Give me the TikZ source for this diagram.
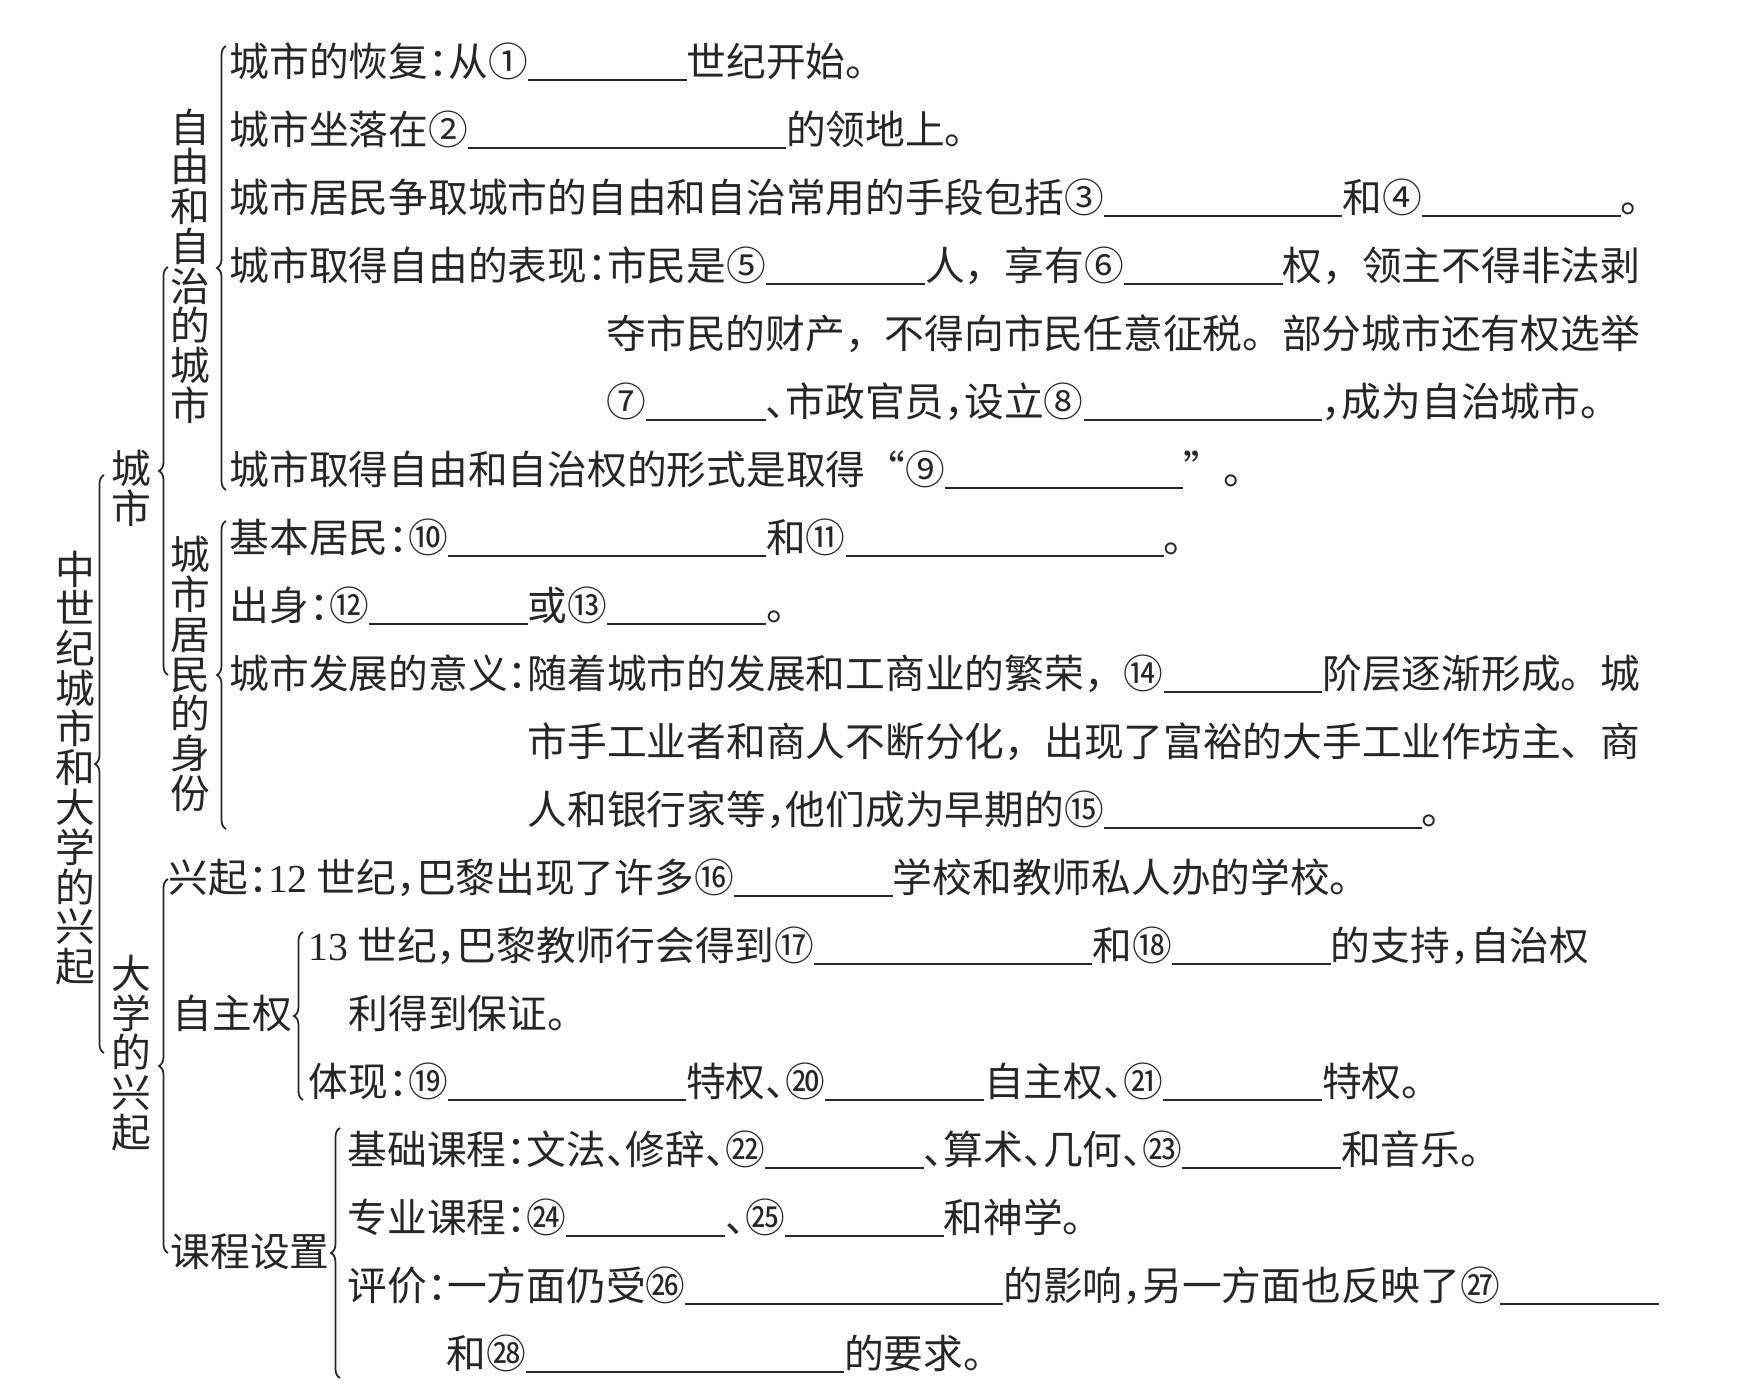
\documentclass[tikz,border=0pt]{standalone}
\usepackage{fontspec}
\setmainfont{Noto Sans CJK SC}
\newfontfamily\latin{Liberation Serif}
\usetikzlibrary{decorations.pathreplacing}
\newcommand{\vfont}{\fontsize{11.3pt}{11.3pt}\selectfont}
\newcommand{\bk}[1]{\rule[-0.12em]{#1em}{0.5pt}}
\newcommand{\mh}{\makebox[0.5em][l]{：}}
\newcommand{\dou}{\makebox[0.5em][l]{，}}
\newcommand{\dun}{\makebox[0.5em][l]{、}}
\tikzstyle{row} = [anchor=west, text height=0.88em, text depth=0.12em]
\tikzstyle{vlabel} = [align=center, font=\vfont]
\tikzstyle{brc} = [decorate, decoration={brace, amplitude=0.09cm}, line width=0.5pt]

\begin{document}
\begin{tikzpicture}[x=0.01cm, y=-0.01cm, font=\fontsize{11.3pt}{13pt}\selectfont, color=black!85]
        \tikzstyle{every node}+=[inner sep=0pt]
        \useasboundingbox (0,0) rectangle (1738,1398);
        % labels
        \node [vlabel] (title) at (75,768) {中\\世\\纪\\城\\市\\和\\大\\学\\的\\兴\\起};
        \node [vlabel] (city) at (131,488) {城\\市};
        \node [vlabel] (univ) at (131,1053) {大\\学\\的\\兴\\起};
        \node [vlabel] (free) at (190,266) {自\\由\\和\\自\\治\\的\\城\\市};
        \node [vlabel] (citizen) at (190,674) {城\\市\\居\\民\\的\\身\\份};
        \node [row] (autonomy) at (172,1015) {自主权};
        \node [row] (course) at (170,1253) {课程设置};
        % rows
        \node [row] (r1) at (229,63) {城市的恢复\mh 从①\bk{4}世纪开始。};
        \node [row] (r2) at (229,131) {城市坐落在②\bk{8}的领地上。};
        \node [row] (r3) at (229,199) {城市居民争取城市的自由和自治常用的手段包括③\bk{6}和④\bk{5}。};
        \node [row] (r4) at (229,267) {城市取得自由的表现\mh 市民是⑤\bk{4}人，享有⑥\bk{4}权，领主不得非法剥};
        \node [row] (r5) at (606,335) {夺市民的财产，不得向市民任意征税。部分城市还有权选举};
        \node [row] (r6) at (606,403) {⑦\bk{3}\dun 市政官员\dou 设立⑧\bk{6}\dou 成为自治城市。};
        \node [row] (r7) at (229,471) {城市取得自由和自治权的形式是取得“⑨\bk{6}”。};
        \node [row] (r8) at (229,539) {基本居民\mh ⑩\bk{8}和⑪\bk{8}。};
        \node [row] (r9) at (229,607) {出身\mh ⑫\bk{4}或⑬\bk{4}。};
        \node [row] (r10) at (229,675) {城市发展的意义\mh 随着城市的发展和工商业的繁荣，⑭\bk{4}阶层逐渐形成。城};
        \node [row] (r11) at (527,743) {市手工业者和商人不断分化，出现了富裕的大手工业作坊主、商};
        \node [row] (r12) at (527,811) {人和银行家等\dou 他们成为早期的⑮\bk{8}。};
        \node [row] (r13) at (168,879) {兴起\mh {\latin 12} 世纪\dou 巴黎出现了许多⑯\bk{4}学校和教师私人办的学校。};
        \node [row] (r14) at (308,947) {{\latin 13} 世纪\dou 巴黎教师行会得到⑰\bk{7}和⑱\bk{4}的支持\dou 自治权};
        \node [row] (r15) at (348,1015) {利得到保证。};
        \node [row] (r16) at (308,1083) {体现\mh ⑲\bk{6}特权\dun ⑳\bk{4}自主权\dun ㉑\bk{4}特权。};
        \node [row] (r17) at (347,1151) {基础课程\mh 文法\dun 修辞\dun ㉒\bk{4}\dun 算术\dun 几何\dun ㉓\bk{4}和音乐。};
        \node [row] (r18) at (347,1219) {专业课程\mh ㉔\bk{4}\dun ㉕\bk{4}和神学。};
        \node [row] (r19) at (347,1287) {评价\mh 一方面仍受㉖\bk{8}的影响\dou 另一方面也反映了㉗\bk{4}};
        \node [row] (r20) at (446,1355) {和㉘\bk{8}的要求。};
        % brace ends
        \coordinate (Dbot) at (104,1053);
        \coordinate (Dtop) at (104,475);
        \coordinate (Cbot) at (168,675);
        \coordinate (Ctop) at (168,267);
        \coordinate (Ebot) at (168,1253);
        \coordinate (Etop) at (168,879);
        \coordinate (Abot) at (226,490);
        \coordinate (Atop) at (226,46);
        \coordinate (Bbot) at (226,829);
        \coordinate (Btop) at (226,521);
        \coordinate (Fbot) at (303,1100);
        \coordinate (Ftop) at (303,932);
        \coordinate (Gbot) at (340,1378);
        \coordinate (Gtop) at (340,1128);
        % braces
        \draw [brc] (Dbot) -- (Dtop);
        \draw [brc] (Cbot) -- (Ctop);
        \draw [brc] (Ebot) -- (Etop);
        \draw [brc] (Abot) -- (Atop);
        \draw [brc] (Bbot) -- (Btop);
        \draw [brc] (Fbot) -- (Ftop);
        \draw [brc] (Gbot) -- (Gtop);
\end{tikzpicture}
\end{document}
